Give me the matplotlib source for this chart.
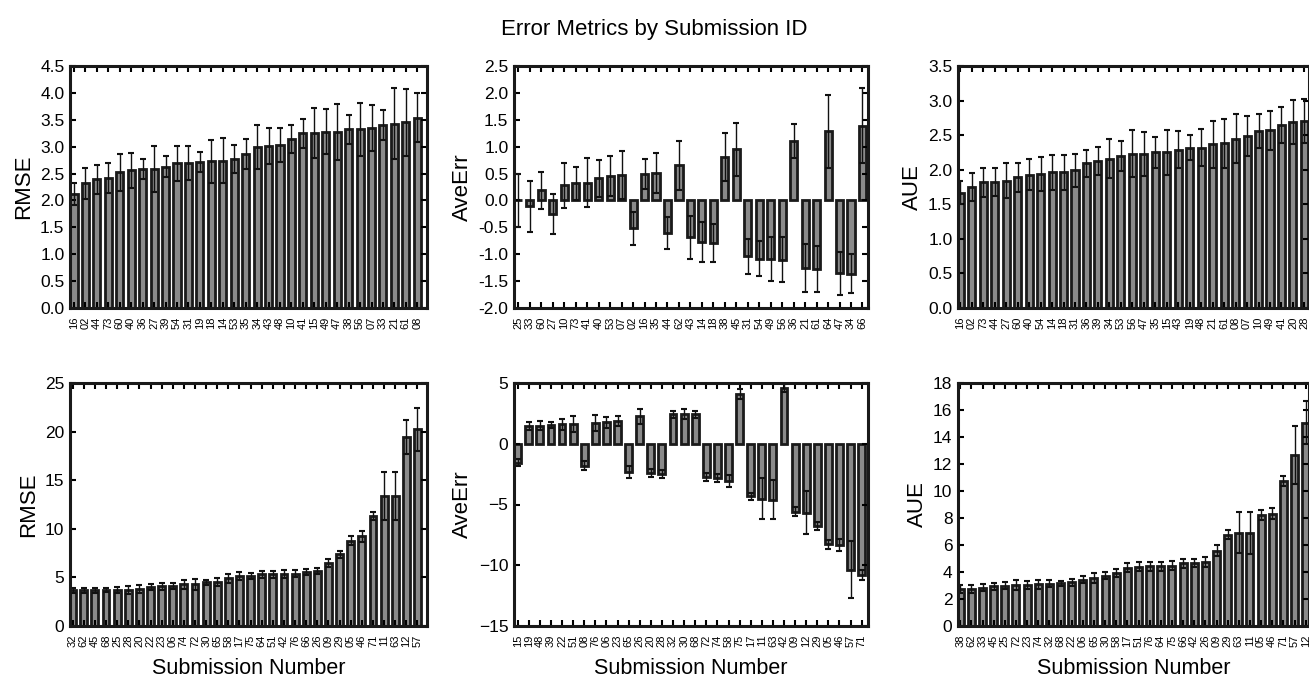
import matplotlib
matplotlib.use('Agg')
import matplotlib.pyplot as plt
import numpy as np

plt.rcParams['font.family'] = ['Liberation Sans', 'DejaVu Sans']

# top row: first dataset
rmse1_ids = ['16', '02', '44', '73', '60', '40', '36', '27', '39', '54', '31', '19', '18', '14', '53', '35',
             '34', '43', '48', '10', '41', '15', '49', '47', '38', '56', '07', '33', '21', '61', '08']
rmse1 = [2.12, 2.32, 2.39, 2.42, 2.52, 2.56, 2.58, 2.58, 2.63, 2.69, 2.70, 2.71, 2.73, 2.74, 2.77, 2.87,
         3.00, 3.01, 3.03, 3.14, 3.25, 3.25, 3.28, 3.28, 3.32, 3.32, 3.35, 3.40, 3.43, 3.45, 3.54]
rmse1_err = [0.21, 0.29, 0.27, 0.28, 0.35, 0.32, 0.19, 0.43, 0.19, 0.32, 0.32, 0.19, 0.40, 0.42, 0.26, 0.28,
             0.41, 0.34, 0.32, 0.26, 0.27, 0.47, 0.42, 0.52, 0.27, 0.49, 0.43, 0.28, 0.66, 0.63, 0.46]

ave1_ids = ['25', '33', '60', '27', '10', '73', '41', '40', '53', '07', '02', '16', '35', '44', '62', '43',
            '14', '18', '38', '45', '31', '54', '49', '56', '36', '21', '61', '64', '47', '34', '66']
ave1 = [0.0, -0.11, 0.19, -0.25, 0.28, 0.32, 0.33, 0.41, 0.45, 0.47, -0.52, 0.49, 0.51, -0.60, 0.65, -0.68,
        -0.78, -0.79, 0.81, 0.95, -1.04, -1.08, -1.09, -1.10, 1.11, -1.26, -1.28, 1.29, -1.35, -1.36, 1.39]
ave1_err = [0.49, 0.47, 0.34, 0.37, 0.42, 0.31, 0.45, 0.35, 0.37, 0.45, 0.30, 0.28, 0.38, 0.30, 0.46, 0.40,
            0.37, 0.36, 0.45, 0.49, 0.33, 0.33, 0.41, 0.42, 0.32, 0.45, 0.43, 0.68, 0.40, 0.36, 0.70]

aue1_ids = ['16', '02', '73', '44', '27', '60', '40', '54', '14', '18', '31', '36', '39', '34', '53', '56',
            '47', '35', '15', '43', '19', '48', '21', '61', '08', '07', '10', '49', '41', '20', '28']
aue1 = [1.67, 1.75, 1.82, 1.82, 1.84, 1.89, 1.93, 1.94, 1.96, 1.96, 1.99, 2.09, 2.13, 2.16, 2.20, 2.23,
        2.23, 2.25, 2.25, 2.29, 2.32, 2.32, 2.37, 2.38, 2.45, 2.49, 2.56, 2.57, 2.65, 2.69, 2.70]
aue1_err = [0.17, 0.20, 0.21, 0.20, 0.25, 0.21, 0.22, 0.25, 0.26, 0.25, 0.24, 0.20, 0.20, 0.28, 0.22, 0.34,
            0.32, 0.23, 0.32, 0.27, 0.18, 0.27, 0.34, 0.35, 0.35, 0.29, 0.25, 0.28, 0.26, 0.32, 0.32]

# bottom row: second dataset
rmse2_ids = ['32', '62', '45', '68', '25', '28', '20', '22', '23', '06', '74', '72', '30', '65', '58', '17',
             '75', '64', '51', '42', '76', '66', '26', '09', '29', '05', '46', '71', '11', '63', '12', '57']
rmse2 = [3.66, 3.66, 3.66, 3.66, 3.73, 3.73, 3.77, 4.04, 4.08, 4.08, 4.28, 4.28, 4.49, 4.52, 4.90, 5.14,
         5.17, 5.31, 5.31, 5.38, 5.38, 5.55, 5.68, 6.47, 7.36, 8.77, 9.21, 11.30, 13.39, 13.39, 19.45, 20.24]
rmse2_err = [0.25, 0.30, 0.25, 0.20, 0.30, 0.40, 0.40, 0.30, 0.35, 0.30, 0.48, 0.58, 0.25, 0.45, 0.48, 0.41,
             0.30, 0.34, 0.34, 0.41, 0.38, 0.35, 0.31, 0.41, 0.38, 0.45, 0.55, 0.41, 2.50, 2.50, 1.78, 2.19]

ave2_ids = ['15', '19', '48', '39', '22', '51', '08', '76', '06', '23', '65', '26', '20', '28', '32', '30',
            '68', '72', '74', '58', '75', '17', '11', '63', '42', '09', '12', '29', '05', '46', '57', '71']
ave2 = [-1.56, 1.45, 1.50, 1.58, 1.61, 1.64, -1.80, 1.69, 1.75, 1.86, -2.35, 2.27, -2.38, -2.46, 2.43, 2.43,
        2.43, -2.73, -2.81, -3.03, 4.07, -4.32, -4.51, -4.59, 4.59, -5.60, -5.66, -6.80, -8.28, -8.36, -10.36, -10.77]
ave2_err = [0.30, 0.30, 0.36, 0.25, 0.46, 0.66, 0.38, 0.66, 0.46, 0.44, 0.49, 0.63, 0.33, 0.33, 0.27, 0.40,
            0.27, 0.33, 0.36, 0.49, 0.41, 0.30, 1.69, 1.61, 0.30, 0.38, 1.75, 0.33, 0.36, 0.49, 2.32, 0.41]

aue2_ids = ['38', '62', '33', '45', '25', '72', '23', '74', '32', '68', '22', '06', '65', '30', '58', '17',
            '51', '76', '64', '75', '66', '42', '26', '09', '29', '63', '11', '05', '46', '71', '57', '12']
aue2 = [2.73, 2.73, 2.83, 2.93, 2.98, 3.05, 3.05, 3.10, 3.13, 3.15, 3.23, 3.42, 3.55, 3.74, 3.92, 4.31,
        4.38, 4.41, 4.41, 4.48, 4.63, 4.66, 4.73, 5.57, 6.75, 6.92, 6.92, 8.23, 8.33, 10.74, 12.64, 15.07]
aue2_err = [0.30, 0.30, 0.25, 0.25, 0.25, 0.37, 0.30, 0.34, 0.25, 0.22, 0.27, 0.25, 0.34, 0.25, 0.32, 0.34,
            0.34, 0.32, 0.34, 0.32, 0.34, 0.32, 0.37, 0.42, 0.34, 1.50, 1.55, 0.39, 0.44, 0.39, 2.14, 1.60]

W, H = 1309, 683
fig = plt.figure(figsize=(W / 100, H / 100), dpi=100)
fig.suptitle('Error Metrics by Submission ID', fontsize=16, y=0.972)


def box(x0, x1, y0, y1):
    # pixel box -> figure fraction
    return [x0 / W, 1 - y1 / H, (x1 - x0) / W, (y1 - y0) / H]


panels = [
    (box(70, 427, 66, 308), rmse1_ids, rmse1, rmse1_err, 'RMSE', (0, 4.5), 0.5, (-0.35, 30.85), False),
    (box(514, 868, 66, 308), ave1_ids, ave1, ave1_err, 'AveErr', (-2.0, 2.5), 0.5, (-0.38, 30.48), False),
    (box(958, 1309, 66, 308), aue1_ids, aue1, aue1_err, 'AUE', (0, 3.5), 0.5, (-0.2, 30.4), False),
    (box(70, 427, 383, 626), rmse2_ids, rmse2, rmse2_err, 'RMSE', (0, 25), 5, (-0.24, 31.86), True),
    (box(514, 868, 383, 626), ave2_ids, ave2, ave2_err, 'AveErr', (-15, 5), 5, (-0.33, 31.57), True),
    (box(958, 1309, 383, 626), aue2_ids, aue2, aue2_err, 'AUE', (0, 18), 2, (-0.2, 31.3), True),
]

for pos, ids, vals, errs, ylab, ylim, step, xlim, bottom in panels:
    ax = fig.add_axes(pos)
    x = np.arange(len(ids))
    ax.bar(x, vals, width=0.62, color='#8a8a8a', edgecolor='#1a1a1a', linewidth=2,
           yerr=errs, capsize=2,
           error_kw=dict(ecolor='#111111', elinewidth=1, capthick=1.5))
    ax.set_xlim(*xlim)
    ax.set_ylim(*ylim)
    ax.set_yticks(np.arange(ylim[0], ylim[1] + step / 2, step))
    if step < 1:
        ax.yaxis.set_major_formatter(matplotlib.ticker.FormatStrFormatter('%.1f'))
    ax.set_xticks(x)
    ax.set_xticklabels(ids, rotation=90, fontsize=8)
    ax.tick_params(axis='y', labelsize=12.5)
    ax.tick_params(direction='in', top=True, right=True, length=4, width=1.5, pad=4)
    ax.tick_params(axis='x', pad=6)
    for sp in ax.spines.values():
        sp.set_linewidth(2.2)
        sp.set_color('#1a1a1a')
    ax.set_ylabel(ylab, fontsize=16)
    if bottom:
        ax.set_xlabel('Submission Number', fontsize=15.5, labelpad=8)

fig.savefig('out.png', dpi=100)
